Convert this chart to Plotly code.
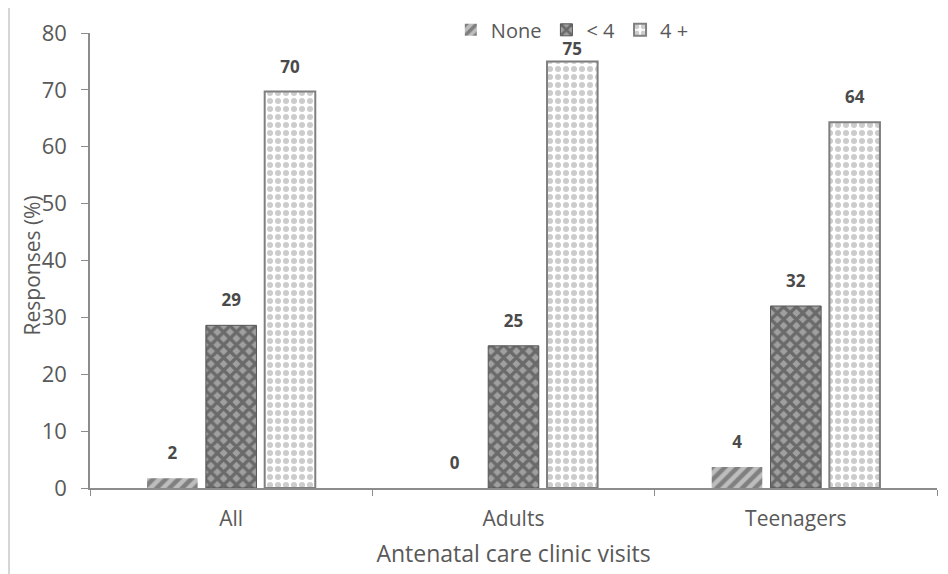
import plotly.graph_objects as go

categories = ["All", "Adults", "Teenagers"]
none_vals = [1.7, 0, 3.7]
lt4_vals = [28.6, 25, 32]
ge4_vals = [69.7, 75, 64.3]
none_labels = ["2", "0", "4"]
lt4_labels = ["29", "25", "32"]
ge4_labels = ["70", "75", "64"]
series_names = ["None", "< 4", "4 +"]
y_ticks = [0, 10, 20, 30, 40, 50, 60, 70, 80]

FONT = "Open Sans"
TXT = "#595959"

fig = go.Figure()
specs = [
    (none_vals, none_labels, dict(shape="/", fgcolor="#444444", bgcolor="#bdbdbd", size=9, solidity=0.5), dict(color="#9a9a9a", width=0), [22, 22, 22]),
    (lt4_vals, lt4_labels, dict(shape="x", fgcolor="#333333", bgcolor="#a0a0a0", size=9, solidity=0.6), dict(color="#555555", width=1), [22, 22, 22]),
    (ge4_vals, ge4_labels, dict(shape=".", fgcolor="#9a9a9a", bgcolor="#ffffff", size=8, solidity=0.45), dict(color="#7f7f7f", width=2), [22, 2, 22]),
]
for i, (name, (vals, labs, pat, line, msz)) in enumerate(zip(series_names, specs)):
    fig.add_trace(go.Bar(
        name=name, x=categories, y=vals, offsetgroup=str(i),
        marker=dict(color=pat["fgcolor"], pattern=pat, line=line),
    ))
for i, (name, (vals, labs, pat, line, msz)) in enumerate(zip(series_names, specs)):
    fig.add_trace(go.Scatter(
        x=categories, y=vals, text=labs, offsetgroup=str(i), mode="markers+text",
        marker=dict(size=msz, opacity=0), textposition="top center",
        textfont=dict(family=FONT, size=17, color="#4a4a4a", weight="bold"),
        showlegend=False, hoverinfo="skip", cliponaxis=False,
    ))

fig.update_layout(
    width=948, height=574,
    margin=dict(l=82, r=19, t=25, b=94, autoexpand=False),
    paper_bgcolor="white", plot_bgcolor="white",
    barmode="group", bargap=0.375, bargroupgap=0.14,
    scattermode="group", scattergap=0.375,
    font=dict(family=FONT, color=TXT, size=19),
    showlegend=True,
    legend=dict(orientation="h", x=0.426, y=1.007, xanchor="left", yanchor="middle",
                font=dict(size=20, color=TXT), bgcolor="rgba(0,0,0,0)",
                itemwidth=30, tracegroupgap=0),
)
fig.update_xaxes(
    showline=True, linecolor="#8c8c8c", linewidth=1.5,
    ticks="outside", tickson="boundaries", ticklen=6, tickcolor="#8c8c8c",
    showgrid=False, tickfont=dict(size=21, color=TXT), ticklabelstandoff=11,
    title=dict(text="Antenatal care clinic visits", font=dict(size=23, color=TXT), standoff=15),
)
fig.update_yaxes(
    range=[0, 80], tickvals=y_ticks, showline=True, linecolor="#8c8c8c", linewidth=1.5,
    ticks="outside", ticklen=7, tickcolor="#8c8c8c", showgrid=False, zeroline=False,
    tickfont=dict(size=22, color=TXT), ticklabelstandoff=10,
)
fig.add_annotation(
    text="Responses (%)", textangle=-90, xref="paper", yref="paper",
    x=-0.068, y=0.49, xanchor="center", yanchor="middle", showarrow=False,
    font=dict(size=21, color=TXT, family=FONT),
)
# image frame (left and top edges)
fig.add_shape(type="line", xref="paper", yref="paper", x0=-0.0956, x1=-0.0956, y0=-0.3, y1=1.0593,
              line=dict(color="#c8c8c8", width=1.5))
fig.add_shape(type="line", xref="paper", yref="paper", x0=-0.0956, x1=1.05, y0=1.0593, y1=1.0593,
              line=dict(color="#c8c8c8", width=1.5))

fig.write_html("out.html")
